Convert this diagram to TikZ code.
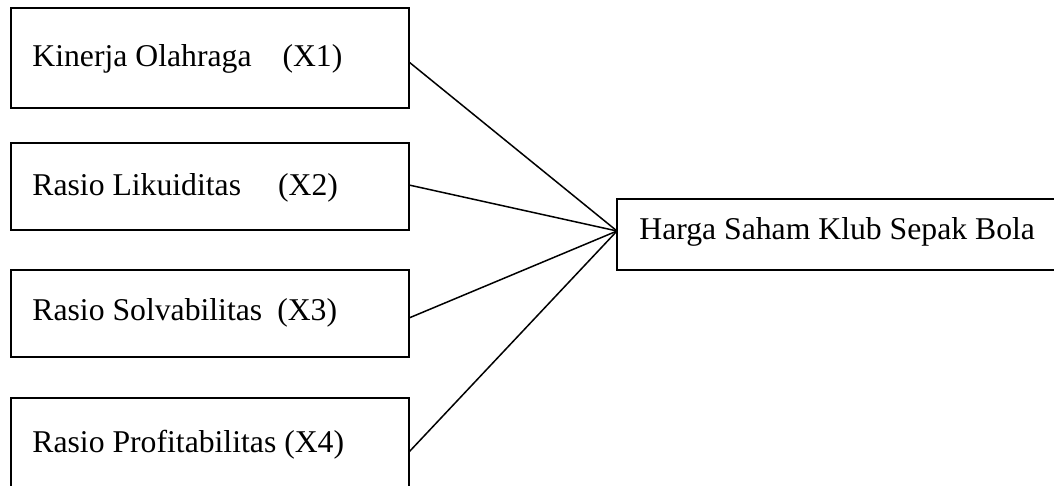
\documentclass[tikz,border=0pt]{standalone}
\usepackage{fontspec}
\setmainfont{Liberation Serif}
\begin{document}
\begin{tikzpicture}[x=0.5pt,y=-0.5pt,
  box/.style={draw=black, line width=0.9pt, inner sep=0pt, outer sep=0pt, minimum width=199pt},
  lbl/.style={anchor=base west, inner sep=0pt, font=\fontsize{15.85}{19}\selectfont},
  link/.style={draw=black, line width=0.75pt}]
\useasboundingbox (0,0) rectangle (1054,486);
\clip (0,0) rectangle (1054,486);
\fill[white] (0,0) rectangle (1054,486);
\node[box, minimum height=50pt] (b1) at (210,58) {};
\node[box, minimum height=43.5pt] (b2) at (210,186.5) {};
\node[box, minimum height=43.5pt] (b3) at (210,313.5) {};
\node[box, minimum height=54pt] (b4) at (210,452) {};
\node[box, minimum width=226.5pt, minimum height=35.5pt] (y) at (843.5,234.5) {};
\node[lbl] (t1) at (32,67) {Kinerja Olahraga\hspace{15.5pt}(X1)};
\node[lbl] (t2) at (32,196) {Rasio Likuiditas\hspace{18.5pt}(X2)};
\node[lbl] (t3) at (32,321) {Rasio Solvabilitas\hspace{7.5pt}(X3)};
\node[lbl] (t4) at (32,452) {Rasio Profitabilitas (X4)};
\node[lbl] (ty) at (639,240) {Harga Saham Klub Sepak Bola};
\coordinate (hub) at ([yshift=1.75pt]y.west);
\draw[link] ([yshift=-2pt]b1.east) -- (hub);
\draw[link] ([yshift=0.75pt]b2.east) -- (hub);
\draw[link] ([yshift=-2.25pt]b3.east) -- (hub);
\draw[link] (b4.east) -- (hub);
\end{tikzpicture}
\end{document}
